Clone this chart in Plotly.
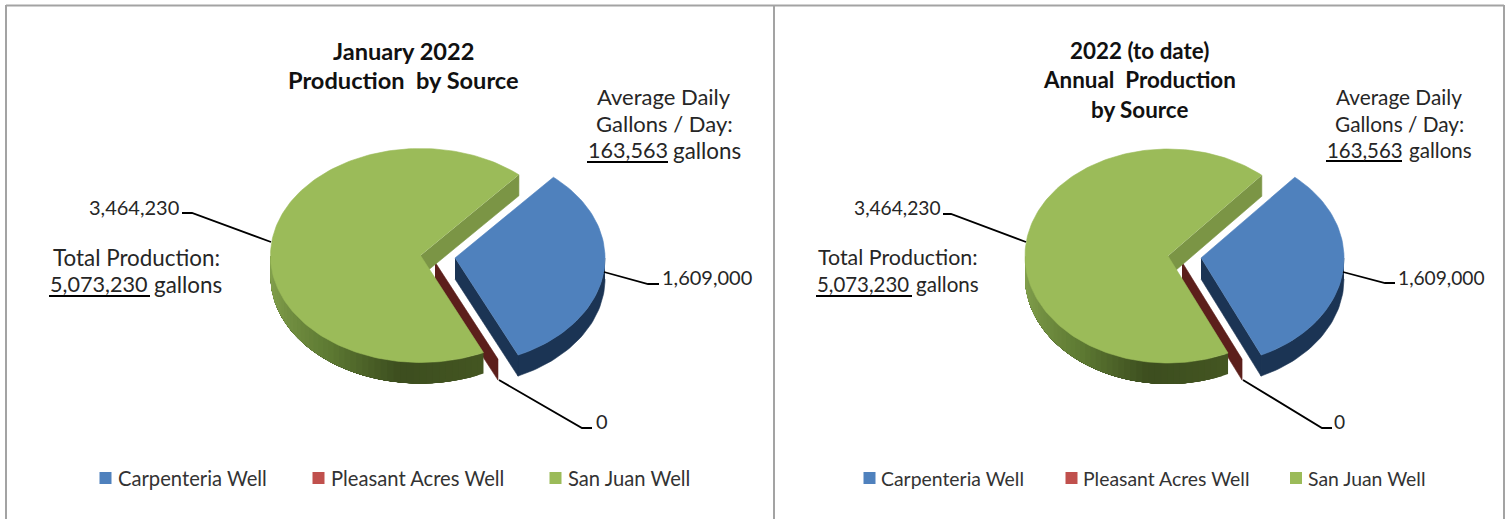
import numpy as np
import plotly.graph_objects as go

# ---- data ----
sources = ["Carpenteria Well", "Pleasant Acres Well", "San Juan Well"]
january_values = [1609000, 0, 3464230]
annual_values = [1609000, 0, 3464230]
value_labels = ["1,609,000", "0", "3,464,230"]
january_title = ["January 2022", "Production  by Source"]
annual_title = ["2022 (to date)", "Annual  Production", "by Source"]
average_lines = ["Average Daily", "Gallons / Day:"]
average_value = "163,563"
total_line = "Total Production:"
total_value = "5,073,230"
unit = "gallons"

# ---- styles ----
TOP = ["#4f81bd", "#c0504d", "#9bbb59"]
WALL = ["#1b3454", "#5c1f1b", "#7b9545"]
RIM_ANGLES = [155, 188, 217, 250, 270]
RIM_COLORS = [(0x44, 0x56, 0x22), (0x3d, 0x4e, 0x1f), (0x5e, 0x7a, 0x33), (0x7a, 0x97, 0x47), (0x86, 0xa4, 0x4f)]
FONT = "Lato"
INK = "#262626"
START = 41.0
RY = 107.0
DEPTH = 21.0

fig = go.Figure()


def rim(center, rx, a):
    r = np.radians(a)
    return center[0] + rx * np.sin(r), center[1] - RY * np.cos(r)


def poly(xs, ys, color, name=None, width=0.6):
    fig.add_trace(go.Scatter(x=list(xs), y=list(ys), mode="lines", fill="toself", fillcolor=color,
                             line=dict(color=color, width=width), showlegend=False,
                             name=name or "", hoverinfo="name" if name else "skip"))


def segments(values):
    total = sum(values)
    a = START
    out = []
    for v in values:
        b = a + 360.0 * v / total
        out.append((a, b))
        a = b
    return out


def depth_pie(values, rx, c_blue, c_zero, c_green):
    (a0, a1), (z0, z1), (g0, g1) = segments(values)

    # exploded first slice: straight wall, rim wall, top face
    t = np.linspace(90, a1, 40)
    bx, by = rim(c_blue, rx, t)
    poly(np.r_[bx, bx[::-1]], np.r_[by, by[::-1] + DEPTH], WALL[0])
    ex, ey = rim(c_blue, rx, a1)
    poly([c_blue[0], ex, ex, c_blue[0]], [c_blue[1], ey, ey + DEPTH, c_blue[1] + DEPTH], WALL[0])
    t = np.linspace(a0, a1, 60)
    bx, by = rim(c_blue, rx, t)
    poly(np.r_[c_blue[0], bx], np.r_[c_blue[1], by], TOP[0], sources[0])

    # zero slice: only its wall shows
    ex, ey = rim(c_zero, rx, z0)
    poly([c_zero[0], ex, ex, c_zero[0]], [c_zero[1], ey, ey + DEPTH, c_zero[1] + DEPTH], WALL[1], sources[1])

    # large slice: cut wall, shaded rim wall (each band painted over the rest), top face
    ex, ey = rim(c_green, rx, g1)
    poly([ex, ex, c_green[0], c_green[0]], [ey, ey + DEPTH, c_green[1] + DEPTH, c_green[1]], WALL[2])
    for s in np.linspace(g0, 268, 46):
        col = [np.interp(s + 1.2, RIM_ANGLES, [c[i] for c in RIM_COLORS]) for i in range(3)]
        color = "rgb(%d,%d,%d)" % tuple(col)
        tt = np.linspace(s, 270, 40)
        wx, wy = rim(c_green, rx, tt)
        poly(np.r_[wx, wx[::-1]], np.r_[wy, wy[::-1] + DEPTH], color, width=0)
    t = np.linspace(g0, g1, 180)
    gx, gy = rim(c_green, rx, t)
    poly(np.r_[c_green[0], gx], np.r_[c_green[1], gy], TOP[2], sources[2])


def text(x, y, s, size, anchor="center", bold=False, color=INK):
    fig.add_annotation(x=x, y=y, text="<b>%s</b>" % s if bold else s, showarrow=False, xanchor=anchor,
                       yanchor="middle", xref="x", yref="y", borderpad=0,
                       font=dict(family=FONT, size=size, color=color))


def leader(xs, ys, width=1.8):
    fig.add_trace(go.Scatter(x=xs, y=ys, mode="lines", line=dict(color="#000000", width=width),
                             showlegend=False, hoverinfo="skip"))


def legend(marks, texts, y, size):
    for i, name in enumerate(sources):
        fig.add_trace(go.Scatter(x=[marks[i]], y=[y], mode="markers", showlegend=False, hoverinfo="skip",
                                 marker=dict(symbol="square", size=12, color=TOP[i], line=dict(width=0))))
        text(texts[i], y, name, size, "left", color="#333333")


# ---- left panel ----
depth_pie(january_values, 150, (455, 258), (435, 262), (420.5, 255.5))
leader([604, 648, 659], [272, 284, 284])
leader([499, 582, 592], [380, 428, 428])
leader([271, 192, 182], [242, 213, 213])
text(403, 51, january_title[0], 23.6, bold=True, color="#111111")
text(403, 80, january_title[1], 23.6, bold=True, color="#111111")
text(664, 96, average_lines[0], 22)
text(664, 123, average_lines[1], 22)
text(587, 150, average_value, 21.6, "left")
text(672, 150, unit, 22.4, "left")
leader([587, 668], [162, 162], 2)
text(136, 257, total_line, 22.4)
text(49, 284, total_value, 21.6, "left")
text(153, 284, unit, 22.4, "left")
leader([49, 150], [296, 296], 2)
text(661, 277, value_labels[0], 20, "left")
text(595, 421, value_labels[1], 20, "left")
text(88, 207, value_labels[2], 20, "left")
legend([105.5, 318.5, 555.5], [117, 330, 567], 478, 20.2)

# ---- right panel ----
depth_pie(annual_values, 143, (1201, 258), (1182, 262), (1168, 256))
leader([1343, 1385, 1395], [272, 283, 283])
leader([1243, 1322, 1332], [380, 428, 428])
leader([1026, 951, 943], [242, 214, 214])
text(1139, 50, annual_title[0], 22.4, bold=True, color="#111111")
text(1139, 79, annual_title[1], 22.4, bold=True, color="#111111")
text(1139, 109, annual_title[2], 22.4, bold=True, color="#111111")
text(1399, 96, average_lines[0], 20.8)
text(1399, 123, average_lines[1], 20.8)
text(1326, 150, average_value, 20.4, "left")
text(1408, 150, unit, 20.6, "left")
leader([1326, 1402], [161, 161], 2)
text(898, 257, total_line, 21.4)
text(816, 284, total_value, 20.4, "left")
text(915, 284, unit, 20.6, "left")
leader([816, 912], [296, 296], 2)
text(1397, 277, value_labels[0], 19.2, "left")
text(1333, 421, value_labels[1], 19.2, "left")
text(853, 207, value_labels[2], 19.2, "left")
legend([869.5, 1071.5, 1296], [880, 1082, 1307], 478, 19.4)

# ---- frame ----
for xs, ys in ([[6, 6], [5, 519]], [[774, 774], [5, 519]], [[1504, 1504], [5, 519]], [[6, 1504], [5.5, 5.5]]):
    fig.add_shape(type="line", x0=xs[0], x1=xs[1], y0=ys[0], y1=ys[1], xref="x", yref="y",
                  line=dict(color="#a3a3a3", width=2))

fig.update_layout(width=1510, height=519, margin=dict(l=0, r=0, t=0, b=0), autosize=False,
                  paper_bgcolor="white", plot_bgcolor="white", showlegend=False, hovermode="closest",
                  xaxis=dict(range=[0, 1510], visible=False, fixedrange=True),
                  yaxis=dict(range=[519, 0], visible=False, fixedrange=True))

fig.write_html("out.html", config={"displayModeBar": False},
               post_script="document.body.style.margin='0';document.body.style.overflow='hidden';"
                           "document.body.style.fontVariantLigatures='none';")
